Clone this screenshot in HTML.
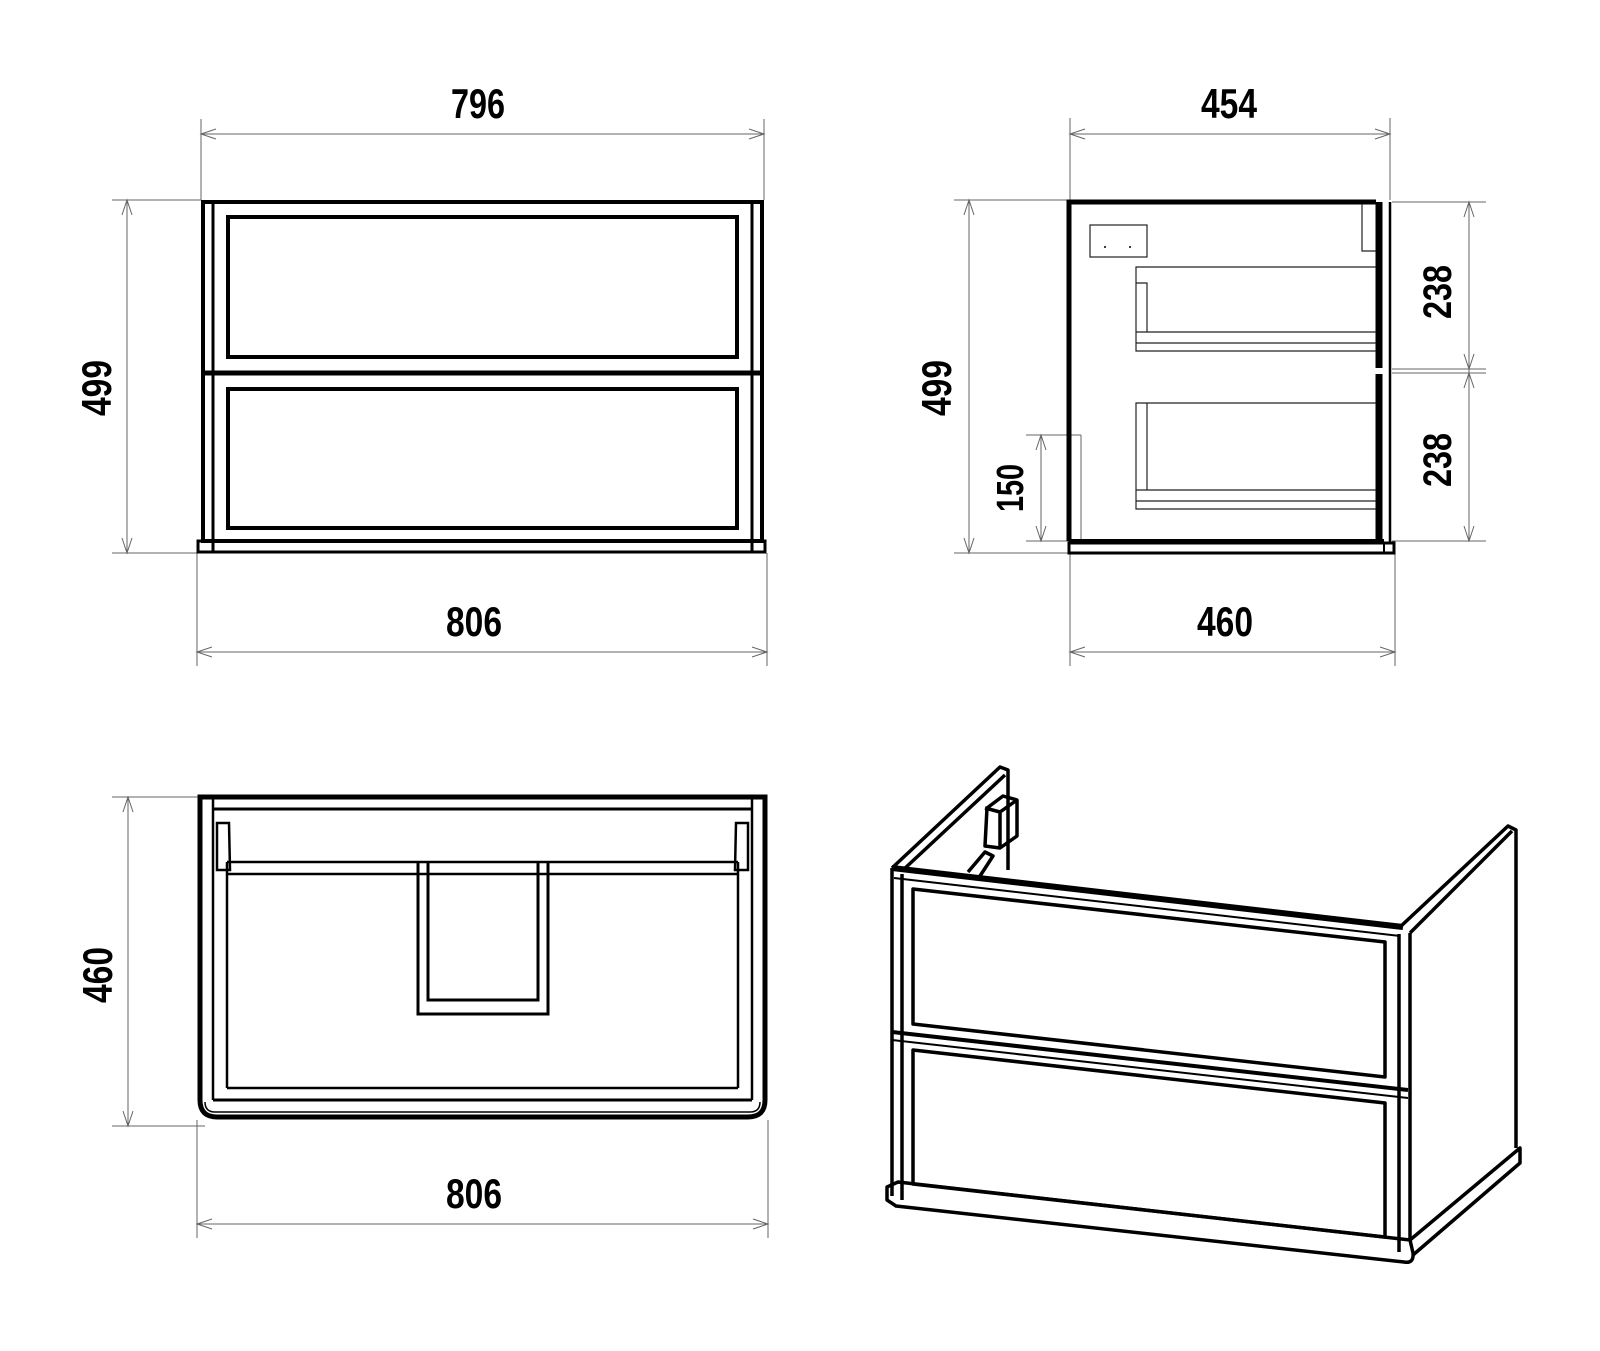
<!DOCTYPE html>
<html><head><meta charset="utf-8"><style>
html,body{margin:0;padding:0;background:#fff;}
svg{display:block}
text{font-family:"Liberation Sans Narrow","Liberation Sans",sans-serif;font-weight:bold;fill:#000;}
</style></head><body>
<svg width="1600" height="1351" viewBox="0 0 1600 1351" xmlns="http://www.w3.org/2000/svg">
<g fill="none" stroke="#666" stroke-width="1">
<!-- front view dims -->
<line x1="201" y1="119" x2="201" y2="200"/><line x1="764" y1="119" x2="764" y2="200"/>
<line x1="201" y1="134" x2="764" y2="134"/>
<path d="M216,129 L201,134 L216,139 M749,129 L764,134 L749,139"/>
<line x1="112" y1="200" x2="201" y2="200"/><line x1="112" y1="553" x2="197" y2="553"/>
<line x1="127" y1="200" x2="127" y2="553"/>
<path d="M122,215 L127,200 L132,215 M122,538 L127,553 L132,538"/>
<line x1="197" y1="553" x2="197" y2="666"/><line x1="767" y1="553" x2="767" y2="666"/>
<line x1="197" y1="652" x2="767" y2="652"/>
<path d="M212,647 L197,652 L212,657 M752,647 L767,652 L752,657"/>
<!-- side view dims -->
<line x1="1070" y1="118" x2="1070" y2="200"/><line x1="1390" y1="118" x2="1390" y2="200"/>
<line x1="1070" y1="134" x2="1390" y2="134"/>
<path d="M1085,129 L1070,134 L1085,139 M1375,129 L1390,134 L1375,139"/>
<line x1="954" y1="200" x2="1070" y2="200"/><line x1="954" y1="553" x2="1070" y2="553"/>
<line x1="969" y1="200" x2="969" y2="553"/>
<path d="M964,215 L969,200 L974,215 M964,538 L969,553 L974,538"/>
<line x1="1026" y1="435" x2="1081" y2="435"/><line x1="1081" y1="435" x2="1081" y2="541"/>
<line x1="1026" y1="541" x2="1070" y2="541"/>
<line x1="1041" y1="435" x2="1041" y2="541"/>
<path d="M1036,450 L1041,435 L1046,450 M1036,526 L1041,541 L1046,526"/>
<line x1="1392" y1="202" x2="1486" y2="202"/><line x1="1392" y1="369" x2="1486" y2="369"/><line x1="1392" y1="373" x2="1486" y2="373"/><line x1="1392" y1="541" x2="1486" y2="541"/>
<line x1="1469" y1="202" x2="1469" y2="541"/>
<path d="M1464,217 L1469,202 L1474,217 M1464,354 L1469,369 L1474,354 M1464,388 L1469,373 L1474,388 M1464,526 L1469,541 L1474,526"/>
<line x1="1070" y1="553" x2="1070" y2="666"/><line x1="1395" y1="553" x2="1395" y2="666"/>
<line x1="1070" y1="652" x2="1395" y2="652"/>
<path d="M1085,647 L1070,652 L1085,657 M1380,647 L1395,652 L1380,657"/>
<!-- plan view dims -->
<line x1="112" y1="797" x2="200" y2="797"/><line x1="112" y1="1126" x2="205" y2="1126"/>
<line x1="128" y1="797" x2="128" y2="1126"/>
<path d="M123,812 L128,797 L133,812 M123,1111 L128,1126 L133,1111"/>
<line x1="197" y1="1120" x2="197" y2="1238"/><line x1="768" y1="1120" x2="768" y2="1238"/>
<line x1="197" y1="1224" x2="768" y2="1224"/>
<path d="M212,1219 L197,1224 L212,1229 M753,1219 L768,1224 L753,1229"/>
</g>

<!-- FRONT VIEW -->
<g fill="none" stroke="#000">
<rect x="203" y="202" width="559" height="339" stroke-width="4"/>
<line x1="213" y1="204" x2="213" y2="541" stroke-width="3"/>
<line x1="752" y1="204" x2="752" y2="541" stroke-width="3"/>
<line x1="203" y1="373" x2="762" y2="373" stroke-width="5"/>
<rect x="228" y="217" width="509" height="140" stroke-width="4"/>
<rect x="228" y="389" width="509" height="139" stroke-width="4"/>
<rect x="198" y="541" width="567" height="11" stroke-width="3"/>
<line x1="213" y1="541" x2="213" y2="552" stroke-width="3"/>
<line x1="752" y1="541" x2="752" y2="552" stroke-width="3"/>
</g>

<!-- SIDE VIEW -->
<g fill="none" stroke="#000">
<path d="M1069,541 L1069,202 L1376,202" stroke-width="5"/>
<line x1="1379" y1="202" x2="1379" y2="368" stroke-width="7"/>
<line x1="1379" y1="374" x2="1379" y2="543" stroke-width="7"/>
<line x1="1390" y1="202" x2="1390" y2="543" stroke-width="2.5"/>
<line x1="1069" y1="541" x2="1384" y2="541" stroke-width="4"/>
<rect x="1069" y="543" width="325" height="10" stroke-width="3"/>
<line x1="1384" y1="543" x2="1384" y2="553" stroke-width="2"/>
</g>
<g fill="none" stroke="#222" stroke-width="1.2">
<path d="M1362,204 L1362,251 L1376,251"/>
<rect x="1090" y="225" width="57" height="32"/>
<path d="M1376,267 L1136,267 L1136,351 L1376,351 M1136,343 L1376,343 M1136,332 L1376,332 M1136,283 L1147,283 L1147,332"/>
<path d="M1376,403 L1136,403 L1136,509 L1376,509 M1136,501 L1376,501 M1136,490 L1376,490 M1147,403 L1147,490"/>
</g>
<circle cx="1105" cy="247" r="1" fill="#000"/><circle cx="1130" cy="247" r="1" fill="#000"/>

<!-- PLAN VIEW -->
<g fill="none" stroke="#000">
<path d="M200,797 L200,1100 Q200,1117 217,1117 L748,1117 Q765,1117 765,1100 L765,797 Z" stroke-width="5"/>
<line x1="213" y1="799" x2="213" y2="1100" stroke-width="2.5"/>
<line x1="752" y1="799" x2="752" y2="1100" stroke-width="2.5"/>
<line x1="213" y1="809" x2="752" y2="809" stroke-width="3"/>
<line x1="213" y1="1100" x2="752" y2="1100" stroke-width="3"/>
<line x1="227" y1="1088" x2="738" y2="1088" stroke-width="2.5"/>
<path d="M205,1102 Q205,1112 215,1112 L750,1112 Q760,1112 760,1102" stroke-width="1.5"/>
<line x1="227" y1="862" x2="738" y2="862" stroke-width="2.5"/>
<line x1="227" y1="874" x2="738" y2="874" stroke-width="2.5"/>
<line x1="227" y1="862" x2="227" y2="1088" stroke-width="2.5"/>
<line x1="738" y1="862" x2="738" y2="1088" stroke-width="2.5"/>
<path d="M217,823 L229,823 L230,870 L217,870 Z" stroke-width="2.5"/>
<path d="M748,823 L736,823 L735,870 L748,870 Z" stroke-width="2.5"/>
<path d="M418,862 L418,1014 L548,1014 L548,862 M428,862 L428,1000 L538,1000 L538,862" stroke-width="3"/>
</g>

<!-- ISOMETRIC -->
<g fill="none" stroke="#000" stroke-width="3.5" stroke-linejoin="round">
<!-- back left panel -->
<path d="M892,868 L1000,767 L1008,770 L1008,870"/>
<path d="M903,870 L1005,775"/>
<!-- bracket -->
<path d="M987,808 L1003,796 L1017,800 L1017,836 L1000,848 L985,846 Z M985,808 L1000,812 L1000,848 M1000,812 L1017,800"/>
<path d="M968,872 L985,852 L993,856 L980,876"/>
<!-- top strip -->
<path d="M892,868 L1403,927" stroke-width="6"/>
<path d="M894,878 L1400,936" stroke-width="2"/>
<!-- right side panel -->
<path d="M1400,927 L1508,826 L1516,830 L1516,1148"/>
<path d="M1410,933 L1512,831"/>
<path d="M1410,933 L1410,1240"/>
<path d="M1410,1240 L1520,1148 L1520,1163 L1413,1255"/>
<!-- front -->
<path d="M892,868 L892,1196"/>
<path d="M902,874 L902,1200"/>
<path d="M1399,934 L1399,1252"/>
<path d="M892,1032 L1408,1090" stroke-width="4"/>
<path d="M892,1040 L1408,1098" stroke-width="2"/>
<path d="M913,889 L1385,942 L1385,1077 L913,1024 Z"/>
<path d="M913,1050 L1385,1103 L1385,1237 L913,1184 Z"/>
<path d="M887,1187 L887,1200 L896,1206 L1404,1262 Q1414,1264 1413,1253 L1410,1240 L898,1182 Z"/>
</g>

<!-- labels -->
<text x="478" y="118" font-size="42" text-anchor="middle" textLength="54" lengthAdjust="spacingAndGlyphs">796</text>
<text x="474" y="636" font-size="42" text-anchor="middle" textLength="56" lengthAdjust="spacingAndGlyphs">806</text>
<text x="1229" y="118" font-size="42" text-anchor="middle" textLength="56" lengthAdjust="spacingAndGlyphs">454</text>
<text x="1225" y="636" font-size="42" text-anchor="middle" textLength="56" lengthAdjust="spacingAndGlyphs">460</text>
<text x="474" y="1208" font-size="42" text-anchor="middle" textLength="56" lengthAdjust="spacingAndGlyphs">806</text>
<text transform="translate(111,388) rotate(-90)" font-size="42" text-anchor="middle" textLength="56" lengthAdjust="spacingAndGlyphs">499</text>
<text transform="translate(951,388) rotate(-90)" font-size="42" text-anchor="middle" textLength="56" lengthAdjust="spacingAndGlyphs">499</text>
<text transform="translate(112,975) rotate(-90)" font-size="42" text-anchor="middle" textLength="56" lengthAdjust="spacingAndGlyphs">460</text>
<text transform="translate(1023,488) rotate(-90)" font-size="38" text-anchor="middle" textLength="48" lengthAdjust="spacingAndGlyphs">150</text>
<text transform="translate(1451,292) rotate(-90)" font-size="40" text-anchor="middle" textLength="54" lengthAdjust="spacingAndGlyphs">238</text>
<text transform="translate(1451,460) rotate(-90)" font-size="40" text-anchor="middle" textLength="54" lengthAdjust="spacingAndGlyphs">238</text>
</svg>
</body></html>
